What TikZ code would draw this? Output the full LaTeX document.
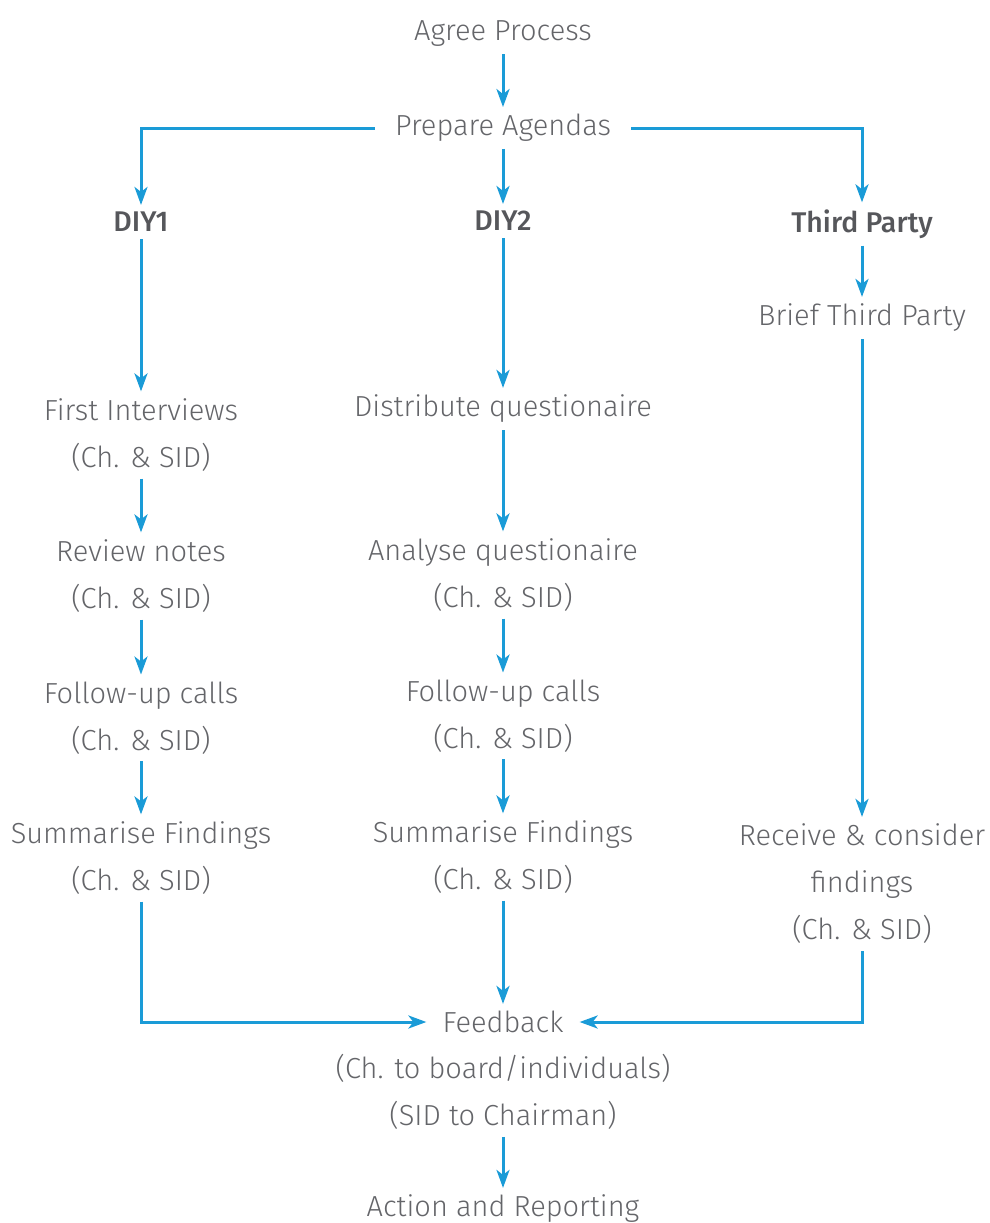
\documentclass[tikz,border=0pt]{standalone}
\usepackage{fontspec}
\setmainfont{Fira Sans}[UprightFont={* Light}, BoldFont={* Medium}]
\usetikzlibrary{arrows.meta}
\definecolor{lineblue}{HTML}{1A9BD7}
\definecolor{txtgrey}{HTML}{646569}
\definecolor{boldgrey}{HTML}{56575B}
\tikzset{
  lbl/.style={text=txtgrey, font=\fontsize{29}{47}\selectfont, align=center, inner xsep=2pt, inner ysep=7pt},
  hdr/.style={text=boldgrey, font=\fontsize{28.5}{47}\selectfont\bfseries, align=center, inner sep=7pt},
  arr/.style={draw=lineblue, line width=3pt, -{Stealth[length=18pt,width=13pt,inset=5pt]}}
}
\begin{document}
\begin{tikzpicture}[x=1pt,y=-1pt]
\useasboundingbox (0,0) rectangle (989,1223);
% centre column
\node[lbl] (agree) at (503,34) {Agree Process};
\node[lbl, inner xsep=20pt] (prep) at (503,128) {Prepare Agendas};
\node[hdr] (diy1) at (141,222) {DIY1};
\node[hdr] (diy2) at (503,221) {DIY2};
\node[hdr] (third) at (862,224) {Third Party};
% left column
\node[lbl] (first) at (141,435) {First Interviews\\(Ch. \& SID)};
\node[lbl] (review) at (141,576) {Review notes\\(Ch. \& SID)};
\node[lbl] (follow1) at (141,718) {Follow-up calls\\(Ch. \& SID)};
\node[lbl] (sum1) at (141,858) {Summarise Findings\\(Ch. \& SID)};
% middle column
\node[lbl] (dist) at (503,409) {Distribute questionaire};
\node[lbl] (anal) at (503,575) {Analyse questionaire\\(Ch. \& SID)};
\node[lbl] (follow2) at (503,716) {Follow-up calls\\(Ch. \& SID)};
\node[lbl] (sum2) at (503,857) {Summarise Findings\\(Ch. \& SID)};
% right column
\node[lbl] (brief) at (862,318) {Brief Third Party};
\node[lbl] (recv) at (862,884) {Receive \& consider\\findings\\(Ch. \& SID)};
% bottom
\node[lbl, inner xsep=16pt] (fb) at (503,1022) {Feedback};
\node[lbl] (fbsub) at (503,1092) {(Ch. to board/individuals)\\(SID to Chairman)};
\node[lbl] (act) at (503,1209) {Action and Reporting};
% connectors
\draw[arr] (agree) -- (prep);
\draw[arr] (prep) -- (diy2);
\draw[arr] (prep.west) -| (diy1.north);
\draw[arr] (prep.east) -| (third.north);
\draw[arr] (diy1) -- (first);
\draw[arr] (first) -- (review);
\draw[arr] (review) -- (follow1);
\draw[arr] (follow1) -- (sum1);
\draw[arr] (diy2) -- (dist);
\draw[arr] (dist) -- (anal);
\draw[arr] (anal) -- (follow2);
\draw[arr] (follow2) -- (sum2);
\draw[arr] (sum2) -- (fb);
\draw[arr] (third) -- (brief);
\draw[arr] (brief) -- (recv);
\draw[arr] (sum1.south) |- (fb.west);
\draw[arr] (recv.south) |- (fb.east);
\draw[arr] (fbsub) -- (act);
\end{tikzpicture}
\end{document}
